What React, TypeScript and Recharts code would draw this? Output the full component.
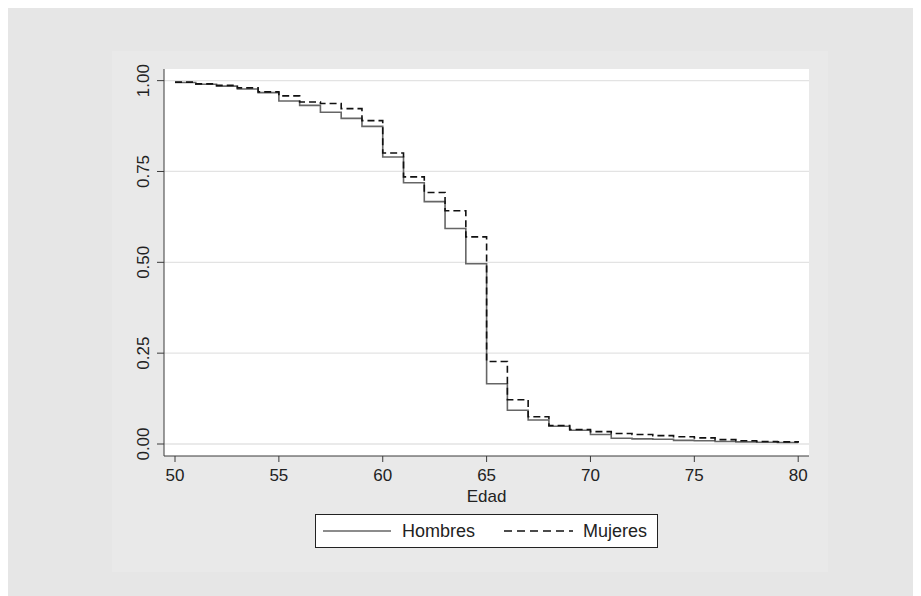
import { LineChart, Line, XAxis, YAxis, CartesianGrid, Legend } from 'recharts';

const AGES = [
  50, 51, 52, 53, 54, 55, 56, 57, 58, 59, 60, 61, 62, 63, 64, 65,
  66, 67, 68, 69, 70, 71, 72, 73, 74, 75, 76, 77, 78, 79, 80,
];

const HOMBRES = [
  0.995, 0.99, 0.985, 0.977, 0.967, 0.944, 0.932, 0.913, 0.896, 0.874, 0.79,
  0.719, 0.667, 0.593, 0.496, 0.166, 0.093, 0.066, 0.049, 0.038, 0.026,
  0.016, 0.014, 0.013, 0.01, 0.009, 0.007, 0.006, 0.005, 0.004, 0.003,
];

const MUJERES = [
  0.996, 0.991, 0.987, 0.98, 0.969, 0.958, 0.941, 0.937, 0.923, 0.89, 0.801,
  0.735, 0.692, 0.642, 0.57, 0.227, 0.122, 0.075, 0.051, 0.04, 0.034,
  0.029, 0.026, 0.023, 0.02, 0.017, 0.012, 0.009, 0.007, 0.006, 0.005,
];

const X_TICKS = [50, 55, 60, 65, 70, 75, 80];
const Y_TICKS = [0, 0.25, 0.5, 0.75, 1];

const data = AGES.map((age, i) => ({ age, hombres: HOMBRES[i], mujeres: MUJERES[i] }));

const FONT = '"Liberation Sans", Arial, Helvetica, sans-serif';
const AXIS_COLOR = '#3a3a3a';

// rotated y tick labels, like Stata's default
const YTick = ({ x, y, payload }: any) => (
  <text
    transform={`translate(${x - 6},${y}) rotate(-90)`}
    textAnchor="middle"
    fontSize={17}
    fill="#222"
    fontFamily={FONT}
  >
    {Number(payload.value).toFixed(2)}
  </text>
);

const LegendBox = () => (
  <div
    style={{
      width: 343,
      height: 34,
      boxSizing: 'border-box',
      border: '1px solid #222',
      background: '#fff',
    }}
  >
    <svg width={341} height={32} style={{ display: 'block' }}>
      <line x1={7} x2={75} y1={16} y2={16} stroke="#666" strokeWidth={1.6} />
      <text x={86} y={22} fontSize={18} fill="#222" fontFamily={FONT}>
        Hombres
      </text>
      <line x1={188} x2={257} y1={16} y2={16} stroke="#111" strokeWidth={1.6} strokeDasharray="8 5" />
      <text x={267} y={22} fontSize={18} fill="#222" fontFamily={FONT}>
        Mujeres
      </text>
    </svg>
  </div>
);

export default function App() {
  return (
    <div style={{ position: 'relative', width: 913, height: 588, background: '#e6e6e6', fontFamily: FONT }}>
      <div
        style={{
          position: 'absolute',
          left: 104,
          top: 43,
          width: 716,
          height: 521,
          background: '#e9e9e9',
        }}
      />
      <div style={{ position: 'absolute', left: 0, top: 0 }}>
        <LineChart width={913} height={588} data={data} margin={{ top: 61, right: 112, left: 106, bottom: 90 }}>
          <CartesianGrid vertical={false} fill="#ffffff" stroke="#e3e3e3" strokeWidth={1.3} horizontalValues={Y_TICKS} />
          <XAxis
            dataKey="age"
            type="number"
            domain={[49.47, 80.52]}
            allowDataOverflow
            ticks={X_TICKS}
            height={50}
            tickSize={6}
            tickMargin={7}
            stroke={AXIS_COLOR}
            tick={{ fill: '#222', fontSize: 17, fontFamily: FONT }}
            label={{ value: 'Edad', position: 'insideBottom', offset: 4, fill: '#222', fontSize: 17, fontFamily: FONT }}
          />
          <YAxis
            type="number"
            domain={[-0.033, 1.032]}
            allowDataOverflow
            ticks={Y_TICKS}
            width={50}
            tickSize={7}
            tickMargin={2}
            stroke={AXIS_COLOR}
            tick={<YTick />}
          />
          <Line
            type="stepAfter"
            dataKey="hombres"
            name="Hombres"
            stroke="#666"
            strokeWidth={1.6}
            dot={false}
            isAnimationActive={false}
          />
          <Line
            type="stepAfter"
            dataKey="mujeres"
            name="Mujeres"
            stroke="#111"
            strokeWidth={1.6}
            strokeDasharray="7 4"
            dot={false}
            isAnimationActive={false}
          />
          <Legend
            layout="horizontal"
            align="center"
            verticalAlign="middle"
            content={<LegendBox />}
            wrapperStyle={{ left: 307, top: 506, width: 343, height: 34 }}
          />
        </LineChart>
      </div>
    </div>
  );
}
